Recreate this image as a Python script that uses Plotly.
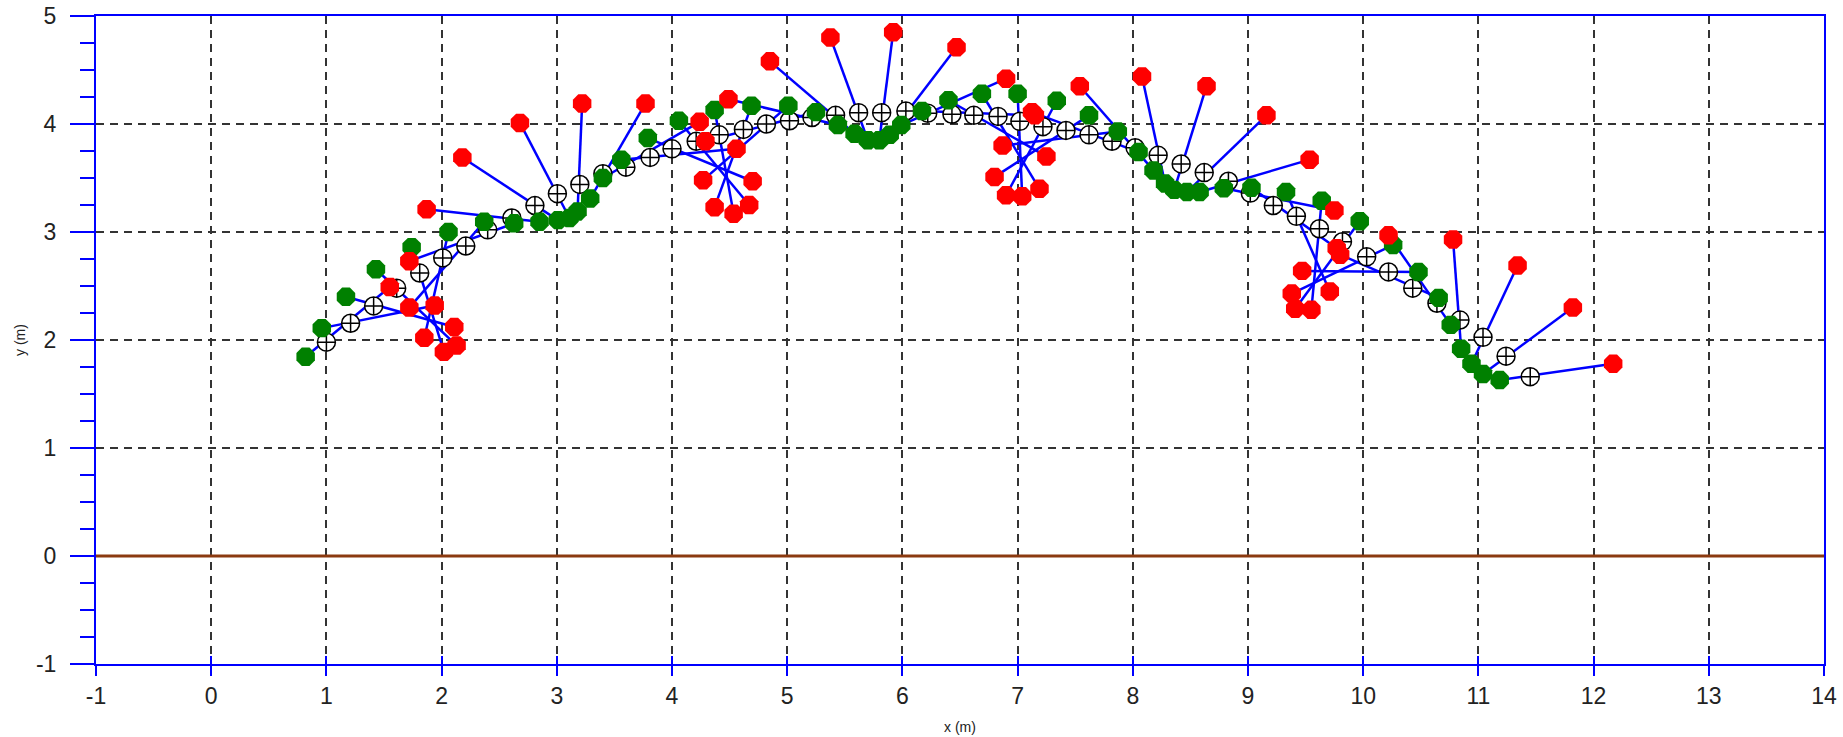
import plotly.graph_objects as go

# Corrected estimates (circle-cross markers)
est_x = [1.00, 1.21, 1.41, 1.61, 1.81, 2.01, 2.21, 2.40, 2.61, 2.81,
         3.005, 3.20, 3.40, 3.60, 3.81, 4.00, 4.21, 4.41, 4.62, 4.82,
         5.02, 5.215, 5.42, 5.62, 5.82, 6.03, 6.22, 6.43, 6.62, 6.83,
         7.02, 7.22, 7.42, 7.62, 7.82, 8.02, 8.22, 8.42, 8.62, 8.83,
         9.02, 9.22, 9.42, 9.62, 9.82, 10.03, 10.22, 10.43, 10.64, 10.84,
         11.04, 11.24, 11.45]
est_y = [1.98, 2.155, 2.315, 2.48, 2.62, 2.76, 2.87, 3.02, 3.13, 3.245,
         3.355, 3.44, 3.54, 3.60, 3.69, 3.77, 3.84, 3.90, 3.95, 4.00,
         4.03, 4.06, 4.08, 4.105, 4.105, 4.12, 4.10, 4.09, 4.08, 4.07,
         4.025, 3.975, 3.94, 3.90, 3.84, 3.78, 3.71, 3.63, 3.55, 3.47,
         3.36, 3.245, 3.145, 3.03, 2.91, 2.77, 2.63, 2.48, 2.34, 2.185,
         2.025, 1.85, 1.66]

# Predictions (green)
pred_x = [0.82, 0.96, 1.17, 1.43, 1.74, 2.06, 2.37, 2.63, 2.85, 3.01,
          3.11, 3.18, 3.29, 3.40, 3.56, 3.79, 4.06, 4.37, 4.69, 5.01,
          5.25, 5.44, 5.585, 5.70, 5.80, 5.89, 5.99, 6.17, 6.40, 6.69,
          7.00, 7.34, 7.62, 7.87, 8.05, 8.18, 8.28, 8.36, 8.47, 8.58,
          8.79, 9.03, 9.33, 9.64, 9.97, 10.26, 10.48, 10.655, 10.76, 10.85,
          10.94, 11.04, 11.185]
pred_y = [1.845, 2.11, 2.40, 2.655, 2.86, 3.00, 3.095, 3.08, 3.095, 3.11,
          3.13, 3.19, 3.31, 3.50, 3.67, 3.87, 4.03, 4.13, 4.17, 4.17,
          4.11, 3.99, 3.91, 3.85, 3.85, 3.90, 3.99, 4.12, 4.22, 4.28,
          4.28, 4.215, 4.08, 3.93, 3.74, 3.57, 3.45, 3.39, 3.37, 3.37,
          3.405, 3.41, 3.37, 3.29, 3.10, 2.88, 2.63, 2.39, 2.14, 1.92,
          1.78, 1.685, 1.63]

# Measurements (red)
meas_x = [1.55, 1.94, 2.11, 2.13, 2.02, 1.85, 1.72, 1.72, 1.87, 2.18,
          2.68, 3.22, 3.77, 4.24, 4.56, 4.70, 4.67, 4.535, 4.37, 4.27,
          4.29, 4.49, 4.85, 5.375, 5.92, 6.47, 6.90, 7.15, 7.25, 7.19,
          7.04, 6.90, 6.80, 6.87, 7.125, 7.54, 8.08, 8.64, 9.16, 9.535,
          9.75, 9.77, 9.71, 9.55, 9.41, 9.38, 9.47, 9.80, 10.22, 10.78,
          11.34, 11.82, 12.17]
meas_y = [2.49, 2.32, 2.12, 1.95, 1.89, 2.02, 2.30, 2.73, 3.21, 3.69,
          4.01, 4.19, 4.19, 4.02, 3.77, 3.47, 3.25, 3.17, 3.23, 3.48,
          3.84, 4.23, 4.58, 4.80, 4.85, 4.71, 4.42, 4.08, 3.70, 3.40,
          3.33, 3.34, 3.51, 3.80, 4.11, 4.35, 4.44, 4.35, 4.08, 3.67,
          3.20, 2.85, 2.45, 2.28, 2.29, 2.43, 2.64, 2.79, 2.97, 2.93,
          2.69, 2.30, 1.78]

ground_x = [-1, 14]
ground_y = [0, 0]

x_ticks = list(range(-1, 15))
y_ticks = list(range(-1, 6))

# Link lines: prediction -> measurement
link_x, link_y = [], []
for gx, gy, mx, my in zip(pred_x, pred_y, meas_x, meas_y):
    link_x += [gx, mx, None]
    link_y += [gy, my, None]

BLUE = '#0000FF'
FONT = 'Liberation Sans, Arial, sans-serif'

fig = go.Figure()
fig.add_trace(go.Scatter(x=ground_x, y=ground_y, mode='lines',
                         line=dict(color='#8B3A10', width=3), hoverinfo='skip'))
fig.add_trace(go.Scatter(x=link_x, y=link_y, mode='lines',
                         line=dict(color=BLUE, width=2.5), hoverinfo='skip'))
fig.add_trace(go.Scatter(x=est_x, y=est_y, mode='markers',
                         marker=dict(symbol='circle-cross', size=18, color='white',
                                     line=dict(color='black', width=1.5))))
fig.add_trace(go.Scatter(x=pred_x, y=pred_y, mode='markers',
                         marker=dict(symbol='octagon', size=20, color='#008000',
                                     line=dict(width=0))))
fig.add_trace(go.Scatter(x=meas_x, y=meas_y, mode='markers',
                         marker=dict(symbol='octagon', size=20, color='#FF0000',
                                     line=dict(width=0))))
# invisible trace to activate inner-tick overlay axis
fig.add_trace(go.Scatter(x=[None], y=[None], xaxis='x2', yaxis='y', showlegend=False))

tickfont = dict(family=FONT, size=23, color='#222222')

fig.update_layout(
    width=1843, height=737,
    margin=dict(l=96, r=19, t=16, b=73),
    paper_bgcolor='white', plot_bgcolor='white',
    showlegend=False,
    xaxis=dict(range=[-1, 14], tickmode='array', tickvals=x_ticks,
               ticktext=[str(v) for v in x_ticks], automargin=False,
               ticklabeloverflow='allow',
               ticks='outside', ticklen=10, tickwidth=2, tickcolor=BLUE,
               showline=True, linecolor=BLUE, linewidth=2, mirror=True,
               showgrid=True, gridcolor='#333333', gridwidth=1.6, griddash='8px,6px',
               zeroline=False, tickfont=tickfont),
    xaxis2=dict(overlaying='x', anchor='y', side='bottom', range=[-1, 14],
                tickmode='array', tickvals=x_ticks, ticks='inside', ticklen=8,
                tickwidth=2, tickcolor=BLUE, showticklabels=False, automargin=False,
                showgrid=False, zeroline=False, showline=False),
    yaxis=dict(range=[-1, 5], tickmode='array', tickvals=y_ticks,
               ticktext=[str(v) for v in y_ticks], automargin=False,
               ticklabeloverflow='allow',
               ticks='outside', ticklen=24, tickwidth=2, tickcolor=BLUE,
               minor=dict(dtick=0.25, tick0=0, ticks='outside', ticklen=14,
                          tickwidth=2, tickcolor=BLUE, showgrid=False),
               showline=True, linecolor=BLUE, linewidth=2, mirror=True,
               showgrid=True, gridcolor='#333333', gridwidth=1.6, griddash='8px,6px',
               zeroline=False, tickfont=tickfont, ticklabelstandoff=9),
    annotations=[
        dict(text='x (m)', xref='paper', yref='paper', x=0.5, y=-0.0972,
             xanchor='center', yanchor='middle', showarrow=False,
             font=dict(family=FONT, size=14, color='#222222')),
        dict(text='y (m)', xref='paper', yref='paper', x=-0.044, y=0.5,
             xanchor='center', yanchor='middle', showarrow=False, textangle=-90,
             font=dict(family=FONT, size=14, color='#222222')),
    ],
)

# remove the browser's default 8px page margin so the figure fills the window
fig.write_html('out.html',
               config={'displayModeBar': False},
               post_script="document.body.style.margin='0px';document.body.style.overflow='hidden';")
